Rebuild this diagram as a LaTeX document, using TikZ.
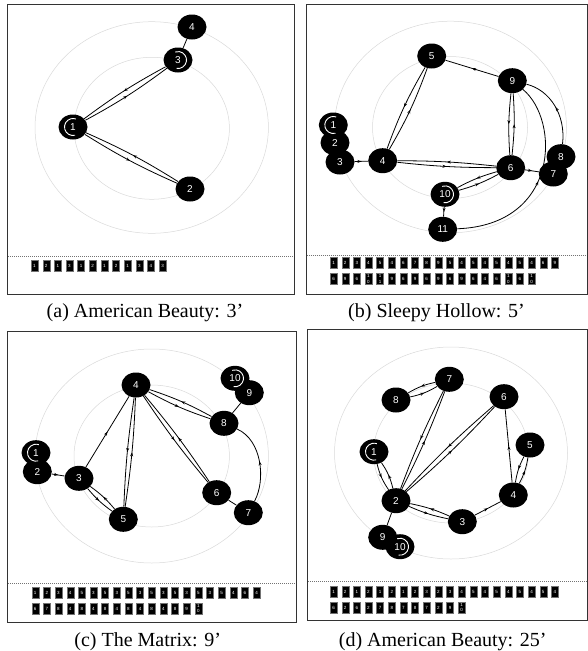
\documentclass[tikz,border=0pt]{standalone}
\usepackage{fontspec}
\setmainfont{Liberation Serif}
\newfontfamily\sansnd{Liberation Sans}
\usetikzlibrary{shapes.geometric,arrows.meta,decorations.markings}
\pgfdeclarelayer{bg}
\pgfsetlayers{bg,main}
\tikzset{
  nd/.style={ellipse, fill=black, minimum width=29pt, minimum height=25pt, inner sep=0pt, text=white, font=\sansnd\fontsize{10}{10}\selectfont},
  edg/.style={line width=0.8pt, postaction={decorate}, decoration={markings, mark=at position 0.5 with {\arrow{Stealth[length=4pt,width=3pt]}}}},
  lnk/.style={line width=0.8pt},
  ringline/.style={draw=black!15, line width=0.5pt},
  frame/.style={draw=black!80, line width=0.9pt},
  sepline/.style={draw=black!55, line width=0.7pt, dash pattern=on 1pt off 1pt},
  seqbox/.style={fill=black, draw=black!55, line width=0.3pt, minimum width=7pt, minimum height=11pt, inner sep=0pt},
  seqtxt/.style={text=white, font=\sansnd\fontsize{4.5}{4.5}\selectfont, inner sep=0pt},
  captext/.style={font=\fontsize{20}{22}\selectfont, inner sep=0pt},
  markarc/.style={draw=white, line width=0.9pt},
}
\newcommand\startmark[1]{\draw[markarc] ([shift={(75:8.5)}]#1.center) arc[start angle=75,end angle=290,radius=8.5];}
\newcommand\finishmark[1]{\draw[markarc] ([shift={(100:8.5)}]#1.center) arc[start angle=100,end angle=-110,radius=8.5];}
\newcommand\seqrow[4]{%
  \foreach \v [count=\i from 0] in {#3} {
    \pgfmathsetmacro\xx{#1+\i*11.65}
    \node[seqbox] (#4\i) at (\xx,#2) {};
    \ifnum\v>9
      \pgfmathtruncatemacro\lo{\v-10}
      \node[seqtxt] (#4t\i) at (\xx,#2-2.6) {1};
      \node[seqtxt] (#4u\i) at (\xx,#2+2.6) {\lo};
    \else
      \node[seqtxt] (#4t\i) at (\xx,#2) {\v};
    \fi
  }%
}
\begin{document}
\begin{tikzpicture}[x=1pt,y=-1pt]
\useasboundingbox (0,0) rectangle (588,651);

% ---------- frames ----------
\draw[frame] (7.5,4.5) rectangle (294.5,294.5);
\draw[frame] (306,4.5) rectangle (587,294);
\draw[frame] (7.5,331.5) rectangle (296,622);
\draw[frame] (307.5,329) rectangle (587,620);
\draw[sepline] (8,256) -- (294,256);
\draw[sepline] (306.5,255) -- (586.5,255);
\draw[sepline] (8,583) -- (295.5,583);
\draw[sepline] (308,581) -- (586.5,581);

% ---------- captions ----------
\node[captext] (capa) at (145,313) {(a) American Beauty: 3’};
\node[captext] (capb) at (436.5,313) {(b) Sleepy Hollow: 5’};
\node[captext] (capc) at (147.7,641.3) {(c) The Matrix: 9’};
\node[captext] (capd) at (442.7,641.3) {(d) American Beauty: 25’};

% ---------- sequences ----------
\seqrow{34.5}{266}{1,2,1,3,1,2,1,2,1,3,4,3}{sa}
\seqrow{333.5}{263}{1,2,3,4,5,4,6,7,8,9,5,4,5,4,5,4,5,4,6,9}{sb}
\seqrow{333.5}{279}{6,9,6,10,11,9,6,9,6,9,6,9,6,4,6,10,6,10}{sbb}
\seqrow{35.2}{593}{1,2,3,4,5,3,5,3,5,3,5,3,5,3,5,3,5,4,6,4}{sc}
\seqrow{35.2}{608.5}{6,7,8,4,8,4,8,4,8,4,8,4,8,9,10}{scc}
\seqrow{333.5}{591.7}{1,2,1,2,1,2,1,2,3,2,3,4,5,4,5,4,5,4,5,4}{sd}
\seqrow{333.5}{607.5}{6,2,6,2,7,8,7,8,7,2,9,10}{sdd}

% ---------- panel (a) nodes ----------
\node[nd] (a2) at (190,189) {2};
\node[nd] (a4) at (192,27) {4};
\node[nd] (a3) at (178,60) {3};
\node[nd] (a1) at (73,127) {1};
\startmark{a1}
\finishmark{a3}

% ---------- panel (b) nodes ----------
\node[nd] (b5) at (431.7,56) {5};
\node[nd] (b9) at (512.3,80.7) {9};
\node[nd] (b3) at (340,162) {3};
\node[nd] (b2) at (335,142.7) {2};
\node[nd] (b1) at (333.3,125) {1};
\node[nd] (b4) at (382.7,160.7) {4};
\node[nd] (b6) at (510.7,167.7) {6};
\node[nd] (b8) at (561,156.7) {8};
\node[nd] (b7) at (553.3,174) {7};
\node[nd] (b11) at (442.7,229.3) {11};
\node[nd] (b10) at (445,194.3) {10};
\startmark{b1}
\finishmark{b10}

% ---------- panel (c) nodes ----------
\node[nd] (c4) at (136,385) {4};
\node[nd] (c10) at (235,378.3) {10};
\node[nd] (c9) at (249.3,392.7) {9};
\node[nd] (c8) at (224,423.3) {8};
\node[nd] (c2) at (37.3,471.7) {2};
\node[nd] (c1) at (36,452.7) {1};
\node[nd] (c3) at (79,478.3) {3};
\node[nd] (c5) at (123.3,519.3) {5};
\node[nd] (c6) at (216.7,492.7) {6};
\node[nd] (c7) at (248.3,512.7) {7};
\startmark{c1}
\finishmark{c10}

% ---------- panel (d) nodes ----------
\node[nd] (d7) at (449.3,379.3) {7};
\node[nd] (d8) at (396,400) {8};
\node[nd] (d6) at (504,396.7) {6};
\node[nd] (d1) at (374,451.7) {1};
\node[nd] (d5) at (530,445) {5};
\node[nd] (d2) at (396,500.7) {2};
\node[nd] (d4) at (513.3,495) {4};
\node[nd] (d3) at (462.3,521.7) {3};
\node[nd] (d9) at (382.7,537.3) {9};
\node[nd] (d10) at (400,546.7) {10};
\startmark{d1}
\finishmark{d10}

\begin{pgfonlayer}{bg}
% rings
\draw[ringline] (151.7,127.5) ellipse [x radius=116.7, y radius=105.8];
\draw[ringline] (151.7,128.3) ellipse [x radius=77.7, y radius=71];
\draw[ringline] (450.5,127) ellipse [x radius=116, y radius=105.8];
\draw[ringline] (450,127.5) ellipse [x radius=77.5, y radius=71];
\draw[ringline] (151.7,456) ellipse [x radius=116.7, y radius=107];
\draw[ringline] (151.7,456) ellipse [x radius=77.7, y radius=71];
\draw[ringline] (451,453) ellipse [x radius=116.5, y radius=106];
\draw[ringline] (451,453) ellipse [x radius=77.5, y radius=70];

% panel (a) edges
\draw[edg] (a1) to[bend right=4] (a2);
\draw[edg] (a2) to[bend right=4] (a1);
\draw[edg] (a1) to[bend right=4] (a3);
\draw[edg] (a3) to[bend right=4] (a1);
\draw[lnk] (a3) -- (a4);

% panel (b) edges
\draw[lnk] (b1) -- (b2);
\draw[lnk] (b2) -- (b3);
\draw[edg] (b3) -- (b4);
\draw[edg] (b4) to[bend right=5] (b5);
\draw[edg] (b5) to[bend right=5] (b4);
\draw[edg] (b4) to[bend right=3] (b6);
\draw[edg] (b6) to[bend right=3] (b4);
\draw[edg] (b6) to[bend right=5] (b9);
\draw[edg] (b9) to[bend right=5] (b6);
\draw[edg] (b6) to[bend right=6] (b10);
\draw[edg] (b10) to[bend right=6] (b6);
\draw[edg] (b6) -- (b7);
\draw[lnk] (b7) -- (b8);
\draw[edg] (b9) -- (b5);
\draw[edg] (b10) -- (b11);
\draw[edg] (b8) .. controls (566,115) and (550,90) .. (b9);
\draw[edg] (b11) .. controls (560,225) and (560,120) .. (b9);

% panel (c) edges
\draw[lnk] (c1) -- (c2);
\draw[edg] (c2) -- (c3);
\draw[edg] (c3) -- (c4);
\draw[edg] (c3) to[bend right=7] (c5);
\draw[edg] (c5) to[bend right=7] (c3);
\draw[edg] (c4) to[bend right=3] (c5);
\draw[edg] (c5) to[bend right=3] (c4);
\draw[edg] (c4) to[bend right=3] (c6);
\draw[edg] (c6) to[bend right=3] (c4);
\draw[edg] (c4) to[bend right=5] (c8);
\draw[edg] (c8) to[bend right=5] (c4);
\draw[lnk] (c6) -- (c7);
\draw[lnk] (c8) -- (c9);
\draw[lnk] (c9) -- (c10);
\draw[edg] (c7) .. controls (266,480) and (262,440) .. (c8);

% panel (d) edges
\draw[edg] (d1) to[bend right=10] (d2);
\draw[edg] (d2) to[bend right=10] (d1);
\draw[edg] (d2) to[bend right=6] (d3);
\draw[edg] (d3) to[bend right=6] (d2);
\draw[edg] (d3) -- (d4);
\draw[edg] (d4) to[bend right=9] (d5);
\draw[edg] (d5) to[bend right=9] (d4);
\draw[edg] (d4) -- (d6);
\draw[edg] (d6) to[bend right=3] (d2);
\draw[edg] (d2) to[bend right=3] (d6);
\draw[edg] (d2) to[bend right=3] (d7);
\draw[edg] (d7) to[bend right=3] (d2);
\draw[edg] (d7) to[bend right=9] (d8);
\draw[edg] (d8) to[bend right=9] (d7);
\draw[lnk] (d2) -- (d9);
\draw[lnk] (d9) -- (d10);
\end{pgfonlayer}
\end{tikzpicture}
\end{document}
